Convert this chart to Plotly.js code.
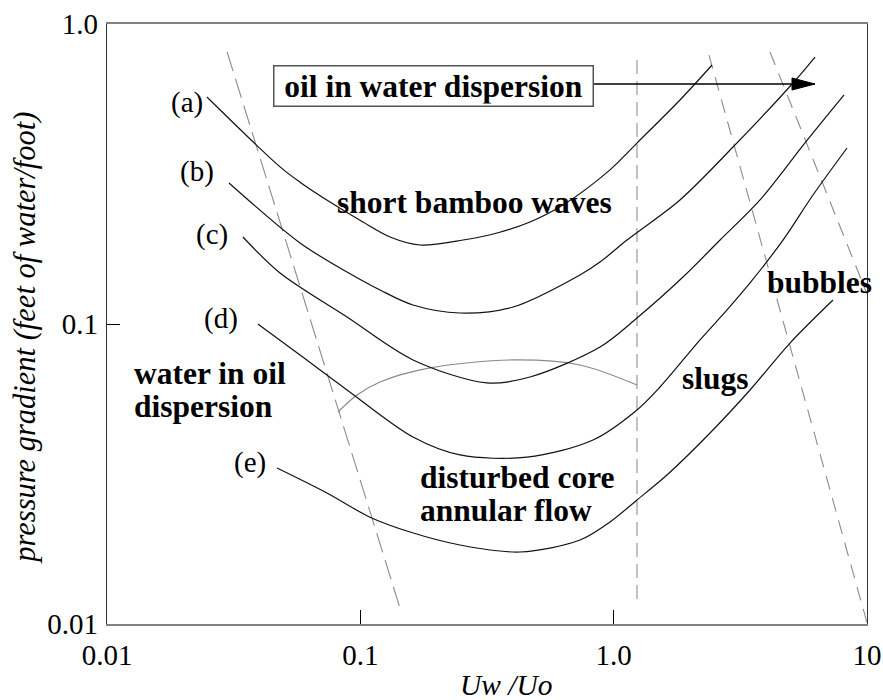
<!DOCTYPE html>
<html>
<head>
<meta charset="utf-8">
<script src="https://cdn.plot.ly/plotly-3.0.1.min.js"></script>
<style>html,body{margin:0;padding:0;background:#fff;}#chart{width:883px;height:700px;}</style>
</head>
<body>
<div id="chart"></div>
<script>
// ---- data (in data units) ----
const curveA_x = [0.0248, 0.0482, 0.0578, 0.0759, 0.1024, 0.131, 0.172, 0.2543, 0.3463, 0.4675, 0.631, 0.967, 1.236, 1.827, 2.445];
const curveA_y = [0.571, 0.334, 0.297, 0.255, 0.2188, 0.195, 0.1834, 0.1905, 0.2011, 0.2188, 0.2492, 0.3263, 0.401, 0.558, 0.730];

const curveB_x = [0.0303, 0.0578, 0.0886, 0.1196, 0.1614, 0.2474, 0.4006, 0.736, 0.8832, 1.129, 1.827, 2.959, 5.104, 6.234];
const curveB_y = [0.2951, 0.1862, 0.149, 0.1298, 0.1157, 0.1088, 0.1139, 0.1457, 0.1609, 0.1905, 0.2591, 0.389, 0.6358, 0.7762];

const curveC_x = [0.0344, 0.0482, 0.0886, 0.1614, 0.3162, 0.4675, 0.8832, 1.236, 1.878, 2.630, 3.782, 5.692, 8.117];
const curveC_y = [0.195, 0.1479, 0.1055, 0.0759, 0.0636, 0.0666, 0.0838, 0.1047, 0.1434, 0.1905, 0.2591, 0.4012, 0.5799];

const curveD_x = [0.0394, 0.0578, 0.0886, 0.1614, 0.2474, 0.4548, 0.829, 1.236, 1.524, 2.192, 2.802, 3.453, 4.661, 6.121, 8.340];
const curveD_y = [0.1, 0.0788, 0.0603, 0.042, 0.0366, 0.036, 0.04106, 0.0517, 0.06166, 0.0885, 0.1114, 0.137, 0.1905, 0.2692, 0.3861];

const curveE_x = [0.0469, 0.0738, 0.1092, 0.1571, 0.2474, 0.4270, 0.736, 0.967, 1.236, 1.623, 2.401, 3.453, 4.967, 7.341];
const curveE_y = [0.0331, 0.02733, 0.0227, 0.02026, 0.01834, 0.01738, 0.01905, 0.02188, 0.02591, 0.03138, 0.04332, 0.06026, 0.0864, 0.1202];

const grayCurve_x = [0.0816, 0.097, 0.1196, 0.1884, 0.4006, 0.736, 1.236];
const grayCurve_y = [0.0509, 0.058, 0.0641, 0.0714, 0.0759, 0.073, 0.0626];

const boundLeft_x = [0.0298, 0.1434];
const boundLeft_y = [0.8066, 0.0113];
const boundMid_x = [1.236, 1.236];
const boundMid_y = [0.7586, 0.012];
const boundRightA_x = [2.378, 10];
const boundRightA_y = [0.788, 0.0101];
const boundRightB_x = [4.141, 10];
const boundRightB_y = [0.8066, 0.126];

const arrow_x = [0.829, 6.234];
const arrow_y = [0.631, 0.631];

const curveLabels = ['(a)', '(b)', '(c)', '(d)', '(e)'];
const xTickVals = [0.01, 0.1, 1, 10];
const xTickText = ['0.01', '0.1', '1.0', '10'];
const yTickVals = [0.01, 0.1, 1];
const yTickText = ['0.01', '0.1', '1.0'];

// ---- traces ----
const SERIF = 'Liberation Serif, Times New Roman, serif';
const solid = (x, y, color, w) => ({x, y, type: 'scatter', mode: 'lines', hoverinfo: 'skip',
  line: {color, width: w, shape: 'spline', smoothing: 0.9}});
const dashed = (x, y, color, dash, w) => ({x, y, type: 'scatter', mode: 'lines', hoverinfo: 'skip',
  line: {color, width: w, dash}});

const traces = [
  dashed(boundLeft_x, boundLeft_y, '#8c8c8c', '20px,8px', 1.1),
  dashed(boundMid_x, boundMid_y, '#b4b4b4', '14px,7px', 1.6),
  dashed(boundRightA_x, boundRightA_y, '#8c8c8c', '14px,9px', 1.1),
  dashed(boundRightB_x, boundRightB_y, '#8c8c8c', '14px,9px', 1.1),
  solid(grayCurve_x, grayCurve_y, '#8a8a8a', 1.2),
  solid(curveA_x, curveA_y, '#111', 1.2),
  solid(curveB_x, curveB_y, '#111', 1.2),
  solid(curveC_x, curveC_y, '#111', 1.2),
  solid(curveD_x, curveD_y, '#111', 1.2),
  solid(curveE_x, curveE_y, '#111', 1.2),
  {x: arrow_x, y: arrow_y, type: 'scatter', mode: 'lines', hoverinfo: 'skip', line: {color: '#000', width: 1.3}}
];

// ---- text ----
const bold = (text, x, y, anchor) => ({text, x, y, xref: 'paper', yref: 'paper', showarrow: false,
  xanchor: anchor || 'center', yanchor: 'middle', font: {family: SERIF, size: 31.5, color: '#000', weight: 'bold'}});
const labelPos = [[0.105, 0.87], [0.118, 0.755], [0.138, 0.65], [0.15, 0.51], [0.188, 0.27]];

const annotations = [
  bold('short bamboo waves', 0.484, 0.703),
  bold('bubbles', 0.938, 0.57),
  bold('slugs', 0.801, 0.41),
  bold('water in oil', 0.033, 0.417, 'left'),
  bold('dispersion', 0.033, 0.362, 'left'),
  bold('disturbed core', 0.409, 0.245, 'left'),
  bold('annular flow', 0.409, 0.19, 'left'),
  Object.assign(bold('oil in water dispersion', 0.429, 0.897),
    {bordercolor: '#555', borderwidth: 1.5, borderpad: 2, width: 314, bgcolor: '#fff'}),
  {text: 'pressure gradient (feet of water/foot)', x: -0.108, y: 0.477, xref: 'paper', yref: 'paper',
    showarrow: false, textangle: -90, xanchor: 'center', yanchor: 'middle',
    font: {family: SERIF, size: 30.5, color: '#000', style: 'italic'}},
  {text: 'Uw /Uo', x: 0.526, y: -0.102, xref: 'paper', yref: 'paper', showarrow: false,
    xanchor: 'center', yanchor: 'middle', font: {family: SERIF, size: 29.5, color: '#000', style: 'italic'}}
];
curveLabels.forEach((t, i) => annotations.push({text: t, x: labelPos[i][0], y: labelPos[i][1],
  xref: 'paper', yref: 'paper', showarrow: false, xanchor: 'center', yanchor: 'middle',
  font: {family: SERIF, size: 29, color: '#000'}}));

const shapes = [
  {type: 'path', xref: 'x', yref: 'y', xsizemode: 'pixel', ysizemode: 'pixel',
   xanchor: arrow_x[1], yanchor: arrow_y[1], path: 'M0,0 L-23,6 L-23,-6 Z',
   fillcolor: '#000', line: {color: '#000', width: 1}}
];

const axisCommon = {type: 'log', showgrid: false, zeroline: false, showline: true, mirror: true,
  ticks: 'inside', tickcolor: '#000', tickwidth: 1, tickmode: 'array',
  tickfont: {family: SERIF, size: 29, color: '#000'}, fixedrange: true};

const layout = {
  width: 883, height: 700,
  margin: {l: 107, r: 16, t: 24, b: 76, pad: 0},
  paper_bgcolor: '#fff', plot_bgcolor: '#fff', showlegend: false,
  xaxis: Object.assign({}, axisCommon, {range: [-2, 1], tickvals: xTickVals, ticktext: xTickText,
    ticklen: 14, linecolor: '#808080', linewidth: 2, ticklabelstandoff: 4}),
  yaxis: Object.assign({}, axisCommon, {range: [-2, 0], tickvals: yTickVals, ticktext: yTickText,
    ticklen: 13, linecolor: '#333', linewidth: 1.3, ticklabelstandoff: 2}),
  annotations, shapes
};

Plotly.newPlot('chart', traces, layout, {displayModeBar: false, staticPlot: true});
</script>
</body>
</html>
